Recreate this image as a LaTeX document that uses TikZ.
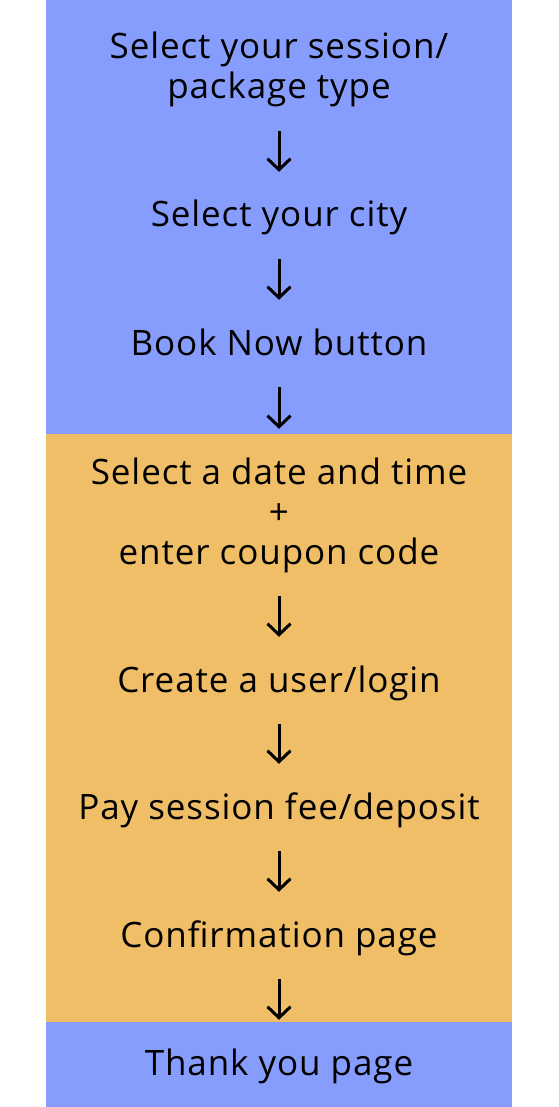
\documentclass[tikz,border=0pt]{standalone}
\usepackage{fontspec}
\setmainfont{Open Sans}[LetterSpace=2.6]
\usetikzlibrary{arrows.meta}
\definecolor{bandblue}{HTML}{879DFE}
\definecolor{bandorange}{HTML}{F0BE66}
\newcommand{\stackedtext}[2]{\raisebox{0pt}[26pt][#2]{\begin{tabular}[t]{@{}c@{}}#1\end{tabular}}}
\tikzset{
  stepbox/.style={inner sep=0pt, anchor=base, font=\fontsize{35}{40}\selectfont, text height=26pt},
  onel/.style={stepbox, text depth=8pt},
  flowarrow/.style={line width=3pt, -{Straight Barb[length=11pt,width=23pt,line width=3pt]}, shorten <=24pt, shorten >=29pt},
}
\begin{document}
\begin{tikzpicture}[x=1pt,y=-1pt]
\useasboundingbox (0,0) rectangle (558,1107);
\fill[bandblue] (46,0) rectangle (512,434);
\fill[bandorange] (46,434) rectangle (512,1022);
\fill[bandblue] (46,1022) rectangle (512,1107);
\node[stepbox] (s1) at (279,59) {\stackedtext{Select your session/\\package type}{48pt}};
\node[onel] (s2) at (279,227) {Select your city};
\node[onel] (s3) at (279,355) {Book Now button};
\node[stepbox] (s4) at (279,484) {\stackedtext{Select a date and time\\+\\enter coupon code}{88pt}};
\node[onel] (s5) at (279,692) {Create a user/login};
\node[onel] (s6) at (279,819) {Pay session fee/deposit};
\node[onel] (s7) at (279,947) {Confirmation page};
\node[onel] (s8) at (279,1075) {Thank you page};
\draw[flowarrow] (s1) -- (s2);
\draw[flowarrow] (s2) -- (s3);
\draw[flowarrow] (s3) -- (s4);
\draw[flowarrow] (s4) -- (s5);
\draw[flowarrow] (s5) -- (s6);
\draw[flowarrow] (s6) -- (s7);
\draw[flowarrow] (s7) -- (s8);
\end{tikzpicture}
\end{document}
